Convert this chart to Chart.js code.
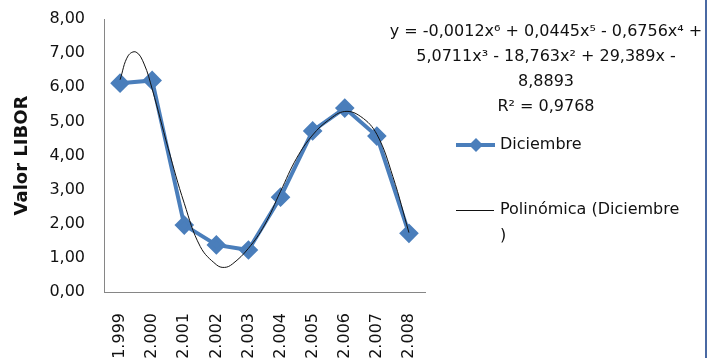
<!DOCTYPE html>
<html>
<head>
<meta charset="utf-8">
<script src="https://cdn.jsdelivr.net/npm/chart.js@4/dist/chart.umd.min.js"></script>
<style>
  body { margin: 0; background: #fff; }
  #wrap { position: relative; width: 714px; height: 358px; overflow: hidden; }
  #edge { position: absolute; left: 705px; top: 0; width: 2px; height: 358px; background: #4a69a3; }
</style>
</head>
<body>
<div id="wrap">
  <canvas id="chart" width="714" height="358"></canvas>
  <div id="edge"></div>
</div>
<script>
// LIBOR de diciembre por año
const years = ['1.999', '2.000', '2.001', '2.002', '2.003', '2.004', '2.005', '2.006', '2.007', '2.008'];
const libor = [6.12, 6.20, 1.96, 1.38, 1.23, 2.78, 4.72, 5.39, 4.57, 1.72];

// línea de tendencia polinómica (x = posición del año, 1..10)
const trendX = [1, 1.25, 1.5, 1.75, 2, 2.5, 3, 3.5, 4, 4.25, 4.5, 5, 5.5, 6, 6.5, 7, 7.5, 8, 8.5, 9, 9.5, 10];
const trendY = [6.22, 6.92, 7.03, 6.68, 5.95, 4.21, 2.60, 1.33, 0.80, 0.72, 0.82, 1.28, 1.96, 2.95, 3.92, 4.60, 5.04, 5.29, 5.14, 4.62, 3.38, 1.74];

const yTicks = [0, 1, 2, 3, 4, 5, 6, 7, 8];
const equation = [
  'y = -0,0012x⁶ + 0,0445x⁵ - 0,6756x⁴ +',
  '5,0711x³ - 18,763x² + 29,389x -',
  '8,8893',
  'R² = 0,9768'
];
const legendNames = ['Diciembre', 'Polinómica (Diciembre', ')'];

const FONT = '"DejaVu Sans", sans-serif';
const BLUE = '#4a7ebb';

// ecuación y leyenda a la derecha
const sideText = {
  id: 'sideText',
  afterDraw(chart) {
    const ctx = chart.ctx;
    ctx.save();
    ctx.fillStyle = '#111';
    ctx.font = '16px ' + FONT;
    ctx.textAlign = 'center';
    ctx.textBaseline = 'middle';
    equation.forEach((line, i) => ctx.fillText(line, 546, 32 + i * 25));

    // serie
    ctx.strokeStyle = BLUE;
    ctx.lineWidth = 4;
    ctx.beginPath(); ctx.moveTo(456, 145); ctx.lineTo(495, 145); ctx.stroke();
    ctx.fillStyle = BLUE;
    ctx.beginPath();
    ctx.moveTo(476, 138); ctx.lineTo(483, 145); ctx.lineTo(476, 152); ctx.lineTo(469, 145);
    ctx.closePath(); ctx.fill();
    // tendencia
    ctx.strokeStyle = '#111';
    ctx.lineWidth = 1;
    ctx.beginPath(); ctx.moveTo(456, 210.5); ctx.lineTo(494, 210.5); ctx.stroke();

    ctx.fillStyle = '#111';
    ctx.textAlign = 'left';
    ctx.fillText(legendNames[0], 500, 145);
    ctx.fillText(legendNames[1], 500, 210);
    ctx.fillText(legendNames[2], 500, 236);
    ctx.restore();
  }
};

new Chart(document.getElementById('chart'), {
  type: 'line',
  data: {
    labels: years,
    datasets: [
      {
        label: 'Diciembre',
        data: libor,
        xAxisID: 'x',
        borderColor: BLUE,
        backgroundColor: BLUE,
        borderWidth: 4,
        pointStyle: 'rectRot',
        pointRadius: 7,
        pointHoverRadius: 7,
        tension: 0,
        order: 1
      },
      {
        label: 'Polinómica (Diciembre)',
        data: trendX.map((x, i) => ({ x: x, y: trendY[i] })),
        xAxisID: 'xt',
        borderColor: '#111',
        borderWidth: 1,
        pointRadius: 0,
        tension: 0.4,
        order: 0
      }
    ]
  },
  options: {
    responsive: false,
    animation: false,
    layout: { padding: { top: 19, right: 289, bottom: 0, left: 0 } },
    plugins: { legend: { display: false }, tooltip: { enabled: false } },
    scales: {
      x: {
        type: 'category',
        offset: true,
        grid: { display: false, drawTicks: false },
        border: { display: true, color: '#868686', width: 1 },
        ticks: {
          color: '#111',
          font: { family: FONT, size: 16 },
          minRotation: 90,
          maxRotation: 90,
          padding: 21,
          autoSkip: false
        },
        afterFit(scale) { scale.height = 66; }
      },
      xt: {
        type: 'linear',
        display: false,
        min: 0.5,
        max: 10.5
      },
      y: {
        min: 0,
        max: 8,
        grid: { display: false, drawTicks: true, tickLength: 19 },
        border: { display: true, color: '#868686', width: 1 },
        afterBuildTicks(scale) { scale.ticks = yTicks.map(v => ({ value: v })); },
        ticks: {
          color: '#111',
          font: { family: FONT, size: 16 },
          padding: 0,
          callback: v => v.toFixed(2).replace('.', ',')
        },
        title: {
          display: true,
          text: 'Valor LIBOR',
          color: '#111',
          font: { family: FONT, size: 18, weight: 'bold' },
          padding: { top: 12, bottom: 0 }
        },
        afterFit(scale) { scale.width = 104; }
      }
    }
  },
  plugins: [sideText]
});
</script>
</body>
</html>
